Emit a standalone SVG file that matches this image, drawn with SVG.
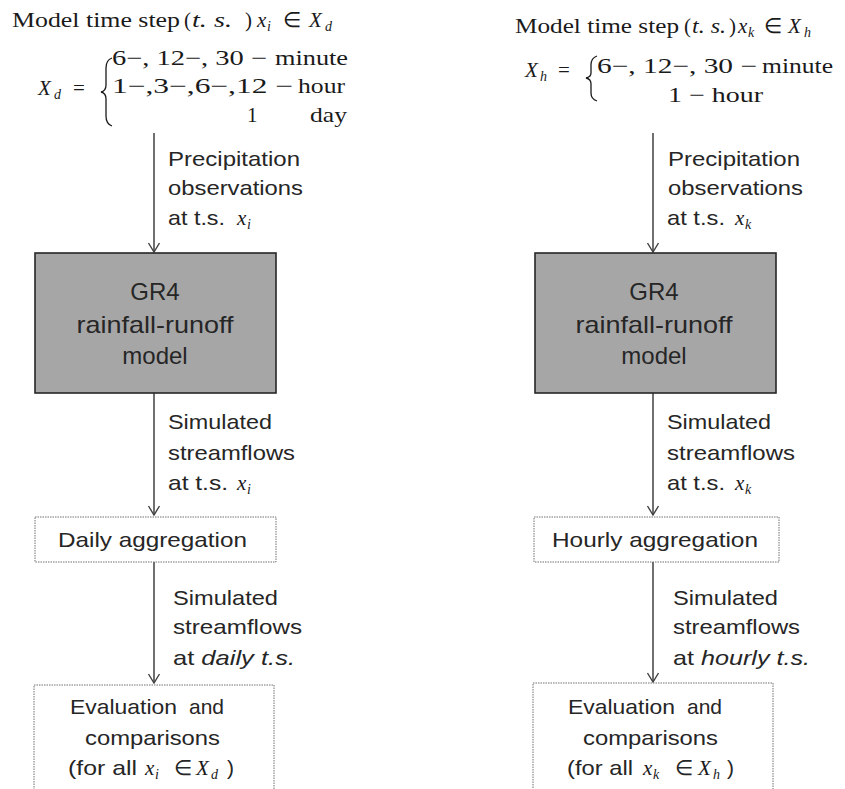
<svg xmlns="http://www.w3.org/2000/svg" width="845" height="789" viewBox="0 0 845 789">
<style>
.m{font-family:"Liberation Serif","Times New Roman",serif;font-size:21px;fill:#1a1a1a}
.mi{font-family:"Liberation Serif","Times New Roman",serif;font-style:italic;font-size:21px;fill:#1a1a1a}
.ms{font-family:"Liberation Serif","Times New Roman",serif;font-style:italic;font-size:14px;fill:#1a1a1a}
.lb{font-family:"Liberation Sans",Arial,sans-serif;font-size:21px;fill:#262626}
.it{font-style:italic}
.c{text-anchor:middle}
.gr{fill:#a6a6a6;stroke:#262626;stroke-width:1.6}
.dot{fill:#fff;stroke:#707070;stroke-width:1;stroke-dasharray:1.5 1}
.ar{stroke:#404040;stroke-width:1.5;fill:none;marker-end:url(#v)}
.br{fill:none;stroke:#1a1a1a;stroke-width:1.3}
</style>
<defs>
<marker id="v" viewBox="-1 -7 11 14" refX="9" refY="0" markerWidth="11" markerHeight="14" markerUnits="userSpaceOnUse" orient="auto">
<path d="M0,-5.5 L9,0 L0,5.5" fill="none" stroke="#404040" stroke-width="1.4"/>
</marker>
</defs>

<g id="header-left">
<text class="m" x="12" y="27" textLength="168" lengthAdjust="spacingAndGlyphs">Model time step</text>
<text class="m" x="184" y="27">(</text>
<text class="mi" x="192" y="27" textLength="40" lengthAdjust="spacingAndGlyphs">t. s.</text>
<text class="m" x="245" y="27">)</text>
<text class="mi" x="257" y="27">x</text><text class="ms" x="267" y="31">i</text>
<text class="m" x="283" y="27">∈</text>
<text class="mi" x="309" y="27">X</text><text class="ms" x="325" y="31">d</text>
</g>

<g id="equation-left">
<text class="mi" x="38" y="95">X</text><text class="ms" x="54" y="99">d</text>
<text class="m" x="73" y="95">=</text>
<path class="br" d="M112,58 Q106,60 106,68 L106,85 Q106,91 101,92 Q106,93 106,99 L106,116 Q106,124 112,126"/>
<text class="m" x="112" y="65" textLength="155" lengthAdjust="spacingAndGlyphs">6−, 12−, 30 −</text>
<text class="m" x="275" y="65" textLength="73" lengthAdjust="spacingAndGlyphs">minute</text>
<text class="m" x="112" y="93" textLength="181" lengthAdjust="spacingAndGlyphs">1−,3−,6−,12 −</text>
<text class="m" x="298" y="93" textLength="47" lengthAdjust="spacingAndGlyphs">hour</text>
<text class="m" x="247" y="122">1</text>
<text class="m" x="310" y="122" textLength="37" lengthAdjust="spacingAndGlyphs">day</text>
</g>

<g id="header-right">
<text class="m" x="515" y="33" textLength="164" lengthAdjust="spacingAndGlyphs">Model time step</text>
<text class="m" x="684" y="33">(</text>
<text class="mi" x="692" y="33" textLength="34" lengthAdjust="spacingAndGlyphs">t. s.</text>
<text class="m" x="729" y="33">)</text>
<text class="mi" x="738" y="33">x</text><text class="ms" x="748" y="37">k</text>
<text class="m" x="764" y="33">∈</text>
<text class="mi" x="788" y="33">X</text><text class="ms" x="804" y="37">h</text>
</g>

<g id="equation-right">
<text class="mi" x="525" y="77">X</text><text class="ms" x="540" y="81">h</text>
<text class="m" x="558" y="77">=</text>
<path class="br" d="M597,56 Q591,58 591,65 L591,73 Q591,77 586,78 Q591,79 591,84 L591,93 Q591,99 597,101"/>
<text class="m" x="597" y="73" textLength="160" lengthAdjust="spacingAndGlyphs">6−, 12−, 30 −</text>
<text class="m" x="762" y="73" textLength="71" lengthAdjust="spacingAndGlyphs">minute</text>
<text class="m" x="668" y="102" textLength="95" lengthAdjust="spacingAndGlyphs">1 − hour</text>
</g>

<g id="connectors">
<line class="ar" x1="154" y1="133" x2="154" y2="252"/>
<line class="ar" x1="154" y1="393" x2="154" y2="515"/>
<line class="ar" x1="154" y1="562" x2="154" y2="683"/>
<line class="ar" x1="653" y1="133" x2="653" y2="252"/>
<line class="ar" x1="653" y1="393" x2="653" y2="515"/>
<line class="ar" x1="653" y1="562" x2="653" y2="682"/>
</g>

<g id="labels-left">
<text class="lb" x="168" y="166" textLength="132" lengthAdjust="spacingAndGlyphs">Precipitation</text>
<text class="lb" x="168" y="195" textLength="135" lengthAdjust="spacingAndGlyphs">observations</text>
<text class="lb" x="168" y="225" textLength="57" lengthAdjust="spacingAndGlyphs">at t.s.</text>
<text class="mi" x="237" y="225">x</text><text class="ms" x="247" y="229">i</text>
<text class="lb" x="168" y="429" textLength="104" lengthAdjust="spacingAndGlyphs">Simulated</text>
<text class="lb" x="168" y="460" textLength="127" lengthAdjust="spacingAndGlyphs">streamflows</text>
<text class="lb" x="168" y="490" textLength="60" lengthAdjust="spacingAndGlyphs">at t.s.</text>
<text class="mi" x="237" y="490">x</text><text class="ms" x="247" y="494">i</text>
<text class="lb" x="173" y="605" textLength="105" lengthAdjust="spacingAndGlyphs">Simulated</text>
<text class="lb" x="173" y="634" textLength="129" lengthAdjust="spacingAndGlyphs">streamflows</text>
<text class="lb" x="173" y="665" textLength="122" lengthAdjust="spacingAndGlyphs">at <tspan class="it">daily t.s.</tspan></text>
</g>

<g id="labels-right">
<text class="lb" x="668" y="166" textLength="132" lengthAdjust="spacingAndGlyphs">Precipitation</text>
<text class="lb" x="668" y="195" textLength="135" lengthAdjust="spacingAndGlyphs">observations</text>
<text class="lb" x="667" y="225" textLength="58" lengthAdjust="spacingAndGlyphs">at t.s.</text>
<text class="mi" x="735" y="225">x</text><text class="ms" x="745" y="229">k</text>
<text class="lb" x="667" y="429" textLength="104" lengthAdjust="spacingAndGlyphs">Simulated</text>
<text class="lb" x="667" y="460" textLength="128" lengthAdjust="spacingAndGlyphs">streamflows</text>
<text class="lb" x="667" y="490" textLength="58" lengthAdjust="spacingAndGlyphs">at t.s.</text>
<text class="mi" x="735" y="490">x</text><text class="ms" x="745" y="494">k</text>
<text class="lb" x="673" y="605" textLength="105" lengthAdjust="spacingAndGlyphs">Simulated</text>
<text class="lb" x="673" y="634" textLength="127" lengthAdjust="spacingAndGlyphs">streamflows</text>
<text class="lb" x="673" y="665" textLength="137" lengthAdjust="spacingAndGlyphs">at <tspan class="it">hourly t.s.</tspan></text>
</g>

<g id="gr4-left">
<rect class="gr" x="35" y="253" width="241" height="140"/>
<text class="lb c" x="155" y="300" style="font-size:24px">GR4</text>
<text class="lb c" x="155" y="333" style="font-size:24px" textLength="157" lengthAdjust="spacingAndGlyphs">rainfall-runoff</text>
<text class="lb c" x="155" y="364" style="font-size:24px">model</text>
</g>

<g id="gr4-right">
<rect class="gr" x="535" y="253" width="241" height="140"/>
<text class="lb c" x="654" y="300" style="font-size:24px">GR4</text>
<text class="lb c" x="654" y="333" style="font-size:24px" textLength="157" lengthAdjust="spacingAndGlyphs">rainfall-runoff</text>
<text class="lb c" x="654" y="364" style="font-size:24px">model</text>
</g>

<g id="daily-aggregation">
<rect class="dot" x="35" y="517" width="241" height="45"/>
<text class="lb" x="58" y="547" textLength="189" lengthAdjust="spacingAndGlyphs">Daily aggregation</text>
</g>

<g id="hourly-aggregation">
<rect class="dot" x="534" y="517" width="245" height="45"/>
<text class="lb" x="552" y="547" textLength="206" lengthAdjust="spacingAndGlyphs">Hourly aggregation</text>
</g>

<g id="evaluation-left">
<rect class="dot" x="34" y="685" width="240" height="120"/>
<text class="lb" x="70" y="714"><tspan x="70" textLength="107" lengthAdjust="spacingAndGlyphs">Evaluation</tspan><tspan x="189">and</tspan></text>
<text class="lb" x="85" y="745" textLength="135" lengthAdjust="spacingAndGlyphs">comparisons</text>
<text class="lb" x="68" y="775" textLength="69" lengthAdjust="spacingAndGlyphs">(for all</text>
<text class="mi" x="145" y="775">x</text><text class="ms" x="155" y="779">i</text>
<text class="lb" x="174" y="775">∈</text>
<text class="mi" x="196" y="775">X</text><text class="ms" x="211" y="779">d</text>
<text class="lb" x="227" y="775">)</text>
</g>

<g id="evaluation-right">
<rect class="dot" x="533" y="683" width="240" height="120"/>
<text class="lb" x="568" y="714"><tspan x="568" textLength="107" lengthAdjust="spacingAndGlyphs">Evaluation</tspan><tspan x="687">and</tspan></text>
<text class="lb" x="583" y="745" textLength="135" lengthAdjust="spacingAndGlyphs">comparisons</text>
<text class="lb" x="567" y="775" textLength="66" lengthAdjust="spacingAndGlyphs">(for all</text>
<text class="mi" x="643" y="775">x</text><text class="ms" x="653" y="779">k</text>
<text class="lb" x="675" y="775">∈</text>
<text class="mi" x="698" y="775">X</text><text class="ms" x="713" y="779">h</text>
<text class="lb" x="727" y="775">)</text>
</g>
</svg>
